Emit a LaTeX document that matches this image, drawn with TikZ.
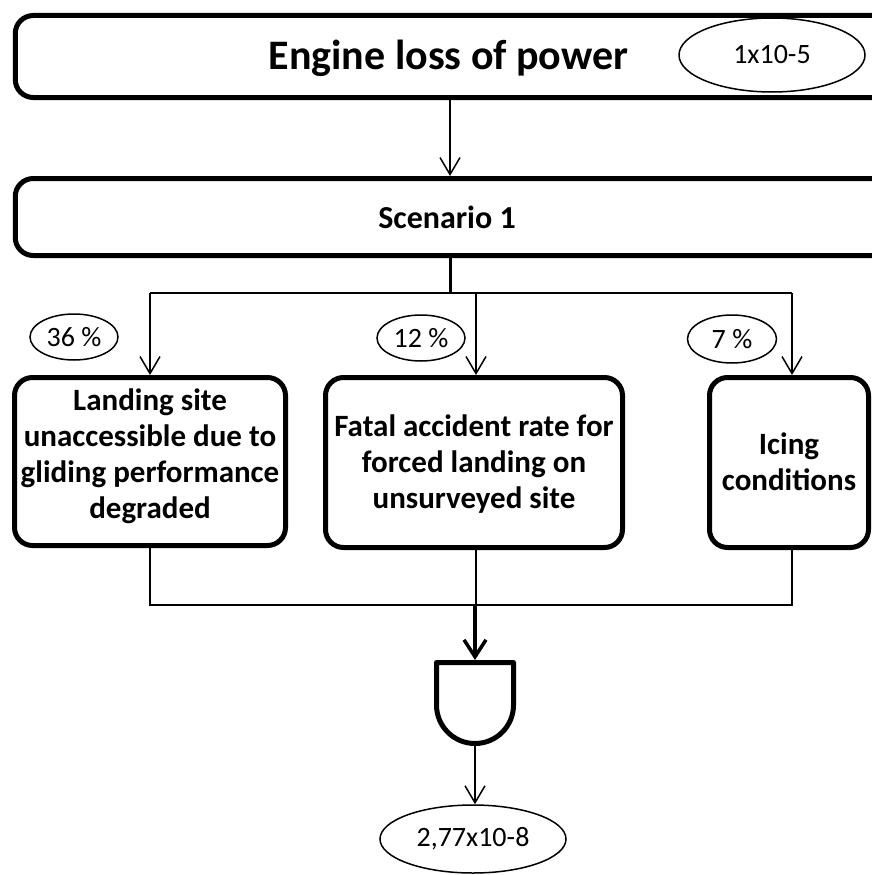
\documentclass[tikz,border=0pt]{standalone}
\usepackage{fontspec}
\setmainfont{Carlito}
\usetikzlibrary{arrows.meta,shapes.geometric}

\tikzset{
  framebox/.style={draw, line width=5pt, rounded corners=18pt, inner sep=0pt},
  probtag/.style={draw, ellipse, line width=1.5pt, inner sep=0pt,
                  font=\fontsize{28}{32}\selectfont},
  boxtext/.style={align=center, inner sep=0pt,
                  font=\fontsize{31}{36}\selectfont\bfseries},
  link/.style={line width=1.5pt, -{Straight Barb[length=17pt,width=20pt]}},
  wire/.style={line width=1.5pt},
  heavylink/.style={line width=3.5pt, -{Straight Barb[length=17pt,width=22pt]}}
}

\begin{document}
\begin{tikzpicture}[x=1pt,y=-1pt]
\useasboundingbox (0,0) rectangle (872,875);
\clip (0,0) rectangle (872,875);

% top event
\node[framebox, minimum width=889.5pt, minimum height=82pt] (top) at (460,56.5) {};
\node[font=\fontsize{42}{48}\selectfont\bfseries, anchor=base, inner sep=0pt] (toptxt) at (448.5,70) {Engine loss of power};
\node[probtag, minimum width=186pt, minimum height=74pt] (p0) at (772,55) {1x10-5};

% scenario
\node[framebox, minimum width=889.5pt, minimum height=77pt] (scen) at (460,217) {};
\node[font=\fontsize{32}{38}\selectfont\bfseries, anchor=base, inner sep=0pt] (scentxt) at (447,228) {Scenario 1};

% contributing conditions
\node[framebox, minimum width=271pt, minimum height=168pt] (b1) at (150,461.5) {};
\node[boxtext] (t1) at (150,456) {Landing site\\unaccessible due to\\gliding performance\\degraded};
\node[framebox, minimum width=297pt, minimum height=170pt] (b2) at (474,462.5) {};
\node[boxtext] (t2) at (474,464) {Fatal accident rate for\\forced landing on\\unsurveyed site};
\node[framebox, minimum width=159pt, minimum height=170pt] (b3) at (789,462.5) {};
\node[boxtext] (t3) at (789,462) {Icing\\conditions};

% probabilities of the conditions
\node[probtag, minimum width=88pt, minimum height=46pt] (e1) at (74,337) {36 \%};
\node[probtag, minimum width=88pt, minimum height=46pt] (e2) at (421,338) {12 \%};
\node[probtag, minimum width=89pt, minimum height=48pt] (e3) at (732,339) {7 \%};

% result
\node[probtag, minimum width=186pt, minimum height=68pt] (res) at (473,839) {2,77x10-8};

% top event -> scenario
\coordinate (x1) at (450,0);
\draw[link] (x1 |- top.south) -- (x1 |- scen.north);

% scenario -> branches
\coordinate (bus) at (450,293);
\coordinate (busL) at (150,293);
\coordinate (busM) at (476,293);
\coordinate (busR) at (792,293);
\draw[line width=3pt] (x1 |- scen.south) -- (bus);
\draw[wire] (busL) -- (busR);
\draw[link] (busL) -- (busL |- b1.north);
\draw[link] (busM) -- (busM |- b2.north);
\draw[link] (busR) -- (busR |- b3.north);

% branches -> AND gate
\coordinate (jL) at (150,605);
\coordinate (jM) at (476,605);
\coordinate (jR) at (792,605);
\coordinate (gin) at (475,605);
\coordinate (gtop) at (475,660);
\coordinate (gbot) at (475,746);
\draw[wire] (jL |- b1.south) -- (jL) -- (jR) -- (jR |- b3.south);
\draw[wire] (jM |- b2.south) -- (jM);
\draw[heavylink] (gin) -- (gtop);

% AND gate
\draw[line width=5pt, line join=round]
  (436.5,705) -- (436.5,662.5) -- (513.5,662.5) -- (513.5,705)
  arc[start angle=0, end angle=180, radius=38.5] -- cycle;

% gate -> result
\draw[link] (gbot) -- (gbot |- res.north);
\end{tikzpicture}
\end{document}
